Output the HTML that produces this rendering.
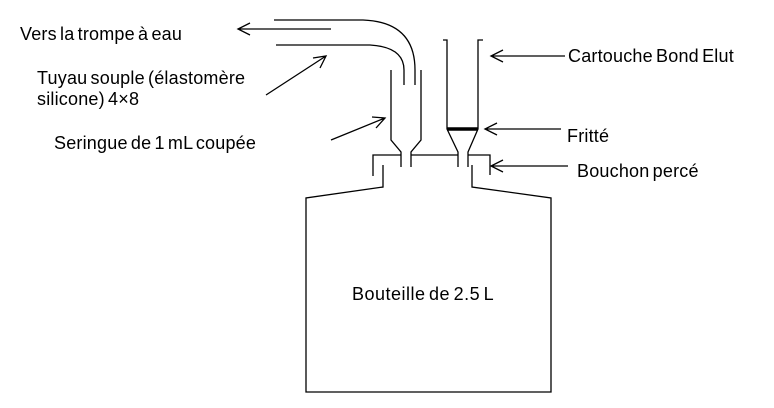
<!DOCTYPE html>
<html><head><meta charset="utf-8"><style>
html,body{margin:0;padding:0;background:#fff;width:774px;height:408px;overflow:hidden}
svg{display:block}
text{font-family:"Liberation Sans",Arial,sans-serif;font-size:18px;fill:#000;letter-spacing:0.2px;word-spacing:-2px}
</style></head><body>
<svg width="774" height="408" viewBox="0 0 774 408" xmlns="http://www.w3.org/2000/svg">
<g stroke="#000" stroke-width="1.3" fill="none">
<path d="M274 20 H363 Q415 22 415 70 V85"/>
<path d="M276 45 H370 Q404 47 404 70 V85"/>
<path d="M331 29 H238 M250 23 L238 29 L250 35"/>
<path d="M266 95 L326 56 M313 58 L326 56 L320 68"/>
<path d="M331 140 L385 118 M372 117 L385 118 L376 128"/>
<path d="M391 70 V140 L401 152 V167"/>
<path d="M421 70 V140 L411 152 V167"/>
<path d="M443 40 H447 V129 L458 152 V167"/>
<path d="M483 40 H478 V129 L468 152 V167"/>
<path d="M373 176 V155 H401"/>
<path d="M411 155 H458"/>
<path d="M468 155 H490 V175"/>
<path d="M383 165 V187 L306 198 V392 H551 V198 L472 187 V165"/>
<path d="M565 56 H491 M503 50 L491 56 L503 62"/>
<path d="M561 129 H485 M497 123 L485 129 L497 135"/>
<path d="M568 166 H491 M503 160 L491 166 L503 172"/>
</g>
<line x1="447" y1="129" x2="478" y2="129" stroke="#000" stroke-width="3.5"/>
<text x="20" y="40">Vers la trompe à eau</text>
<text x="37" y="84">Tuyau souple (élastomère</text>
<text x="37" y="105">silicone) 4×8</text>
<text x="54" y="149">Seringue de 1 mL coupée</text>
<text x="568" y="62">Cartouche Bond Elut</text>
<text x="567" y="142">Fritté</text>
<text x="577" y="177">Bouchon percé</text>
<text x="352" y="300" style="letter-spacing:0.5px">Bouteille de 2.5 L</text>
</svg>
</body></html>
